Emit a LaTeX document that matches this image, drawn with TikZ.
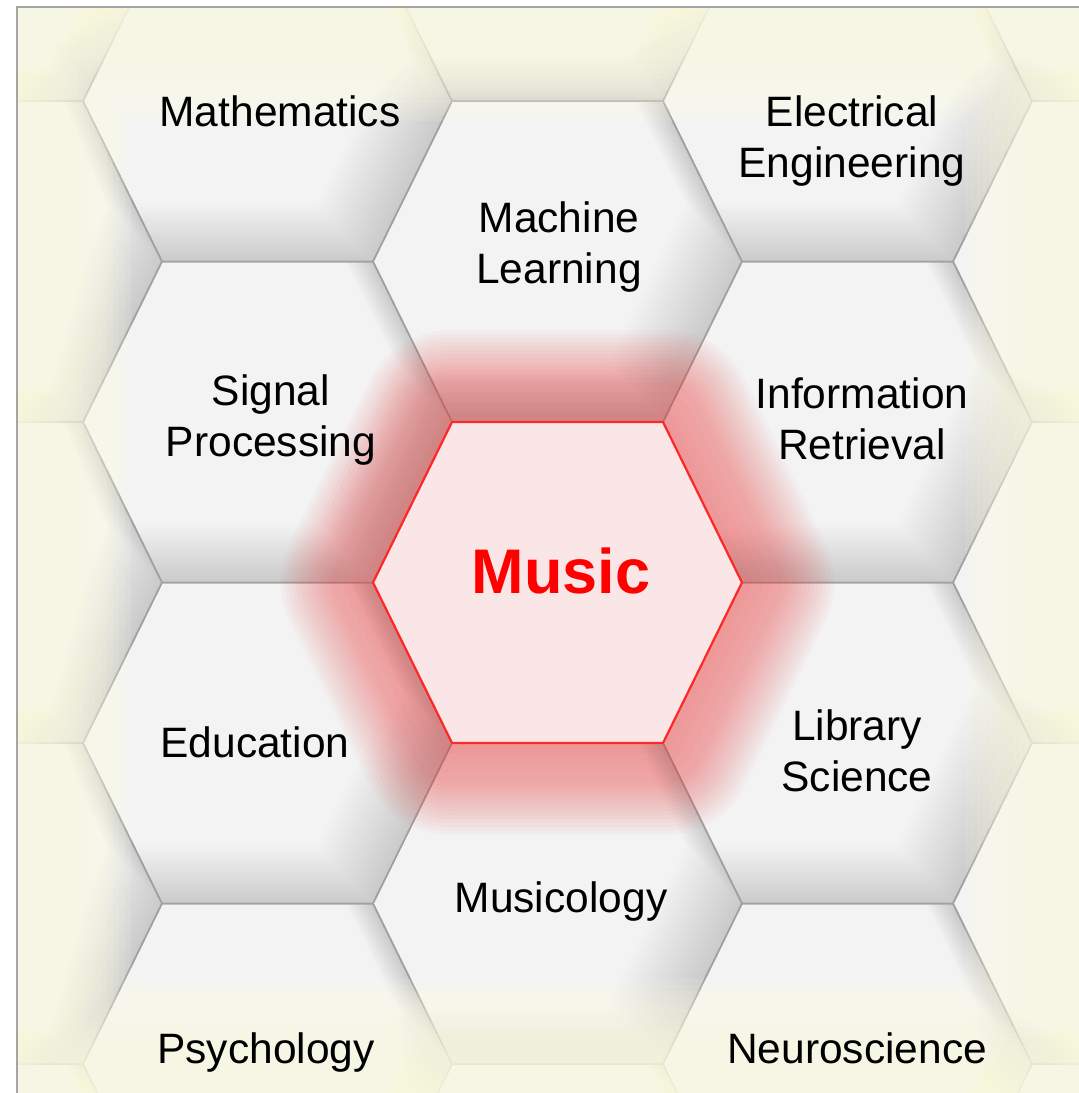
\documentclass[tikz,border=0pt]{standalone}
\usepackage{fontspec}
\setmainfont{Liberation Sans}
\definecolor{tilebase}{RGB}{243,243,243}
\definecolor{edgegray}{RGB}{160,160,160}
\definecolor{framegray}{RGB}{165,165,165}
\definecolor{vigyellow}{RGB}{255,255,228}
\definecolor{glowred}{RGB}{238,60,60}
\definecolor{musicfill}{RGB}{250,230,231}
\definecolor{musicedge}{RGB}{255,40,40}
\definecolor{musictext}{RGB}{255,0,0}
\newcommand\hexat[2]{({#1-184.5},{#2}) -- ({#1-105.5},{#2-160.5}) -- ({#1+105.5},{#2-160.5}) -- ({#1+184.5},{#2}) -- ({#1+105.5},{#2+160.5}) -- ({#1-105.5},{#2+160.5}) -- cycle}
\tikzset{
  hexedge/.style={draw=edgegray, line width=1.5pt, line join=round},
  shadowfill/.style={fill=black, fill opacity=0.0095, even odd rule},
  vigstroke/.style={draw=vigyellow, opacity=0.1},
  glowstroke/.style={draw=glowred, opacity=0.035, line join=round},
  label/.style={font=\fontsize{42.5}{50.5}\selectfont, align=center, inner sep=0pt, anchor=base, text=black},
  musiclabel/.style={font=\fontsize{63}{70}\selectfont\bfseries, inner sep=0pt, anchor=base, text=musictext}
}
\begin{document}
\begin{tikzpicture}[x=1pt,y=-1pt]
\useasboundingbox (0,0) rectangle (1079,1093);
\fill[white] (0,0) rectangle (1079,1093);
\begin{scope}
  \clip (17,7) rectangle (1079,1093);
  \fill[tilebase] (17,7) rectangle (1079,1093);
  % soft inner shadows of the tiles (light from the upper left)
  \foreach \cx/\cy in {-22.5/-59.5,-22.5/261.5,-22.5/582.5,-22.5/903.5,-22.5/1224.5,
                       267.5/101,267.5/422,267.5/743,267.5/1064,
                       557.5/-59.5,557.5/261.5,557.5/903.5,557.5/1224.5,
                       847.5/101,847.5/422,847.5/743,847.5/1064,
                       1137.5/-59.5,1137.5/261.5,1137.5/582.5,1137.5/903.5,1137.5/1224.5}{
    \begin{scope}
      \clip \hexat{\cx}{\cy};
      \foreach \s in {4,8,...,80}{
        \fill[shadowfill] ({\cx-400},{\cy-400}) rectangle ({\cx+400},{\cy+400})
             \hexat{\cx-0.7*\s}{\cy-0.72*\s};
      }
    \end{scope}
  }
  % tile edges
  \foreach \cx/\cy in {-22.5/-59.5,-22.5/261.5,-22.5/582.5,-22.5/903.5,-22.5/1224.5,
                       267.5/101,267.5/422,267.5/743,267.5/1064,
                       557.5/-59.5,557.5/261.5,557.5/582.5,557.5/903.5,557.5/1224.5,
                       847.5/101,847.5/422,847.5/743,847.5/1064,
                       1137.5/-59.5,1137.5/261.5,1137.5/582.5,1137.5/903.5,1137.5/1224.5}{
    \draw[hexedge] \hexat{\cx}{\cy};
  }
  % yellow vignette at the frame edges
  \foreach \w in {12,24,...,228}{
    \draw[vigstroke, line width=\w pt] (17,7) rectangle (1079,1093);
  }
  % red glow around Music
  \foreach \w in {20,40,60,80,88,96,104,112,120,128,136,144,152,160,168,176,184}{
    \draw[glowstroke, line width=\w pt] \hexat{557.5}{582.5};
  }
  % Music tile
  \path[fill=musicfill, draw=musicedge, line width=2.2pt, line join=round] \hexat{557.5}{582.5};
\end{scope}
% frame
\draw[framegray, line width=2pt] (16.5,6.5) rectangle (1100,1110);
% labels
\node[label] (math) at (280,126) {Mathematics};
\node[label] (ee) at (852,177) {Electrical\\Engineering};
\node[label] (ml) at (559,283) {Machine\\Learning};
\node[label] (sp) at (271,456) {Signal\\Processing};
\node[label] (ir) at (862,459) {Information\\Retrieval};
\node[musiclabel] (music) at (561,593) {Music};
\node[label] (edu) at (255,757) {Education};
\node[label] (lib) at (857,791) {Library\\Science};
\node[label] (musy) at (561,912) {Musicology};
\node[label] (psy) at (266,1063) {Psychology};
\node[label] (neuro) at (857,1063) {Neuroscience};
\end{tikzpicture}
\end{document}
